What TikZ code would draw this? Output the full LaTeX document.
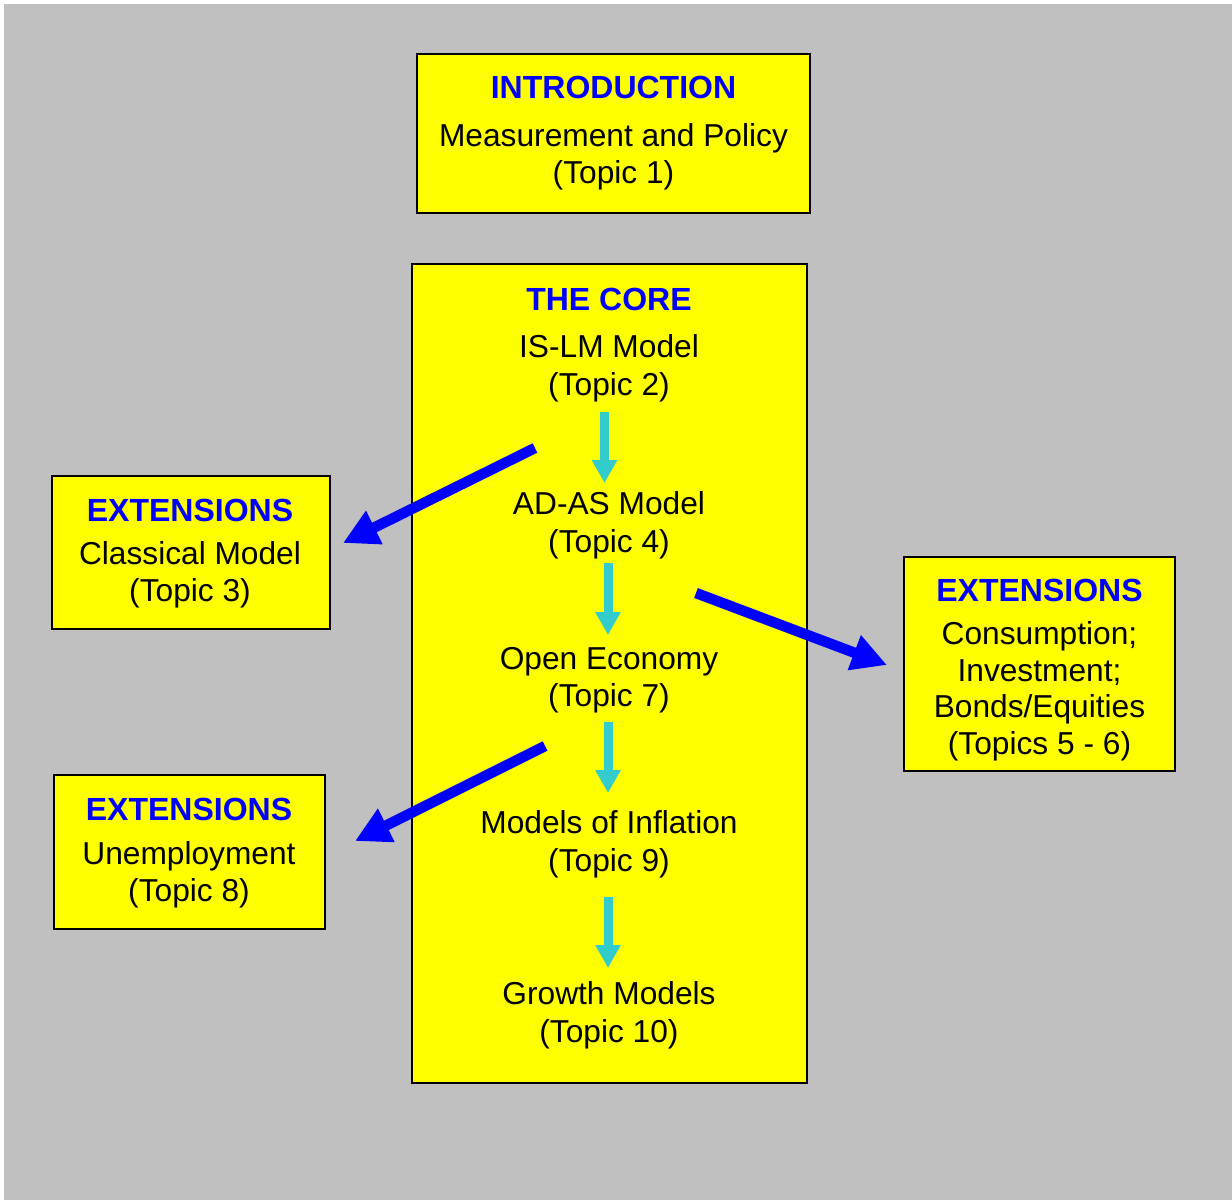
\documentclass[tikz,border=0pt]{standalone}
\usepackage{fontspec}
\setmainfont{Liberation Sans}
\usetikzlibrary{arrows.meta}
\definecolor{bggray}{HTML}{C0C0C0}
\definecolor{boxyellow}{HTML}{FFFF00}
\definecolor{titleblue}{HTML}{0000FF}
\definecolor{arrcyan}{HTML}{33CCCC}
\tikzset{
  box/.style={draw=black, line width=2pt, fill=boxyellow},
  txt/.style={inner sep=0pt, anchor=base, font=\fontsize{31.7}{37}\selectfont},
  ttl/.style={txt, text=titleblue, font=\fontsize{32}{37}\selectfont\bfseries},
  cyanarr/.style={draw=arrcyan, line width=9pt, -{Triangle[length=23pt,width=24pt]}},
  bluearr/.style={draw=titleblue, line width=10.5pt, -{Triangle[length=35pt,width=35pt]}},
}
\begin{document}
\begin{tikzpicture}[x=1pt,y=-1pt]
\useasboundingbox (0,0) rectangle (1232,1200);
\fill[white] (0,0) rectangle (1232,1200);
\fill[bggray] (4,4) rectangle (1232,1200);

% boxes
\draw[box] (417,54) rectangle (810,213);
\draw[box] (412,264) rectangle (807,1083);
\draw[box] (52,476) rectangle (330,629);
\draw[box] (54,775) rectangle (325,929);
\draw[box] (904,557) rectangle (1175,771);

% introduction
\node[ttl] (introT) at (613.5,98) {INTRODUCTION};
\node[txt] (intro1) at (613.5,146) {Measurement and Policy};
\node[txt] (intro2) at (613.5,183) {(Topic 1)};

% core
\node[ttl] (coreT) at (609,310) {THE CORE};
\node[txt] (islm) at (609,357) {IS-LM Model};
\node[txt] (islmT) at (609,395) {(Topic 2)};
\node[txt] (adas) at (609,514) {AD-AS Model};
\node[txt] (adasT) at (609,552) {(Topic 4)};
\node[txt] (open) at (609,669) {Open Economy};
\node[txt] (openT) at (609,706) {(Topic 7)};
\node[txt] (infl) at (609,833) {Models of Inflation};
\node[txt] (inflT) at (609,871) {(Topic 9)};
\node[txt] (grow) at (609,1004) {Growth Models};
\node[txt] (growT) at (609,1042) {(Topic 10)};

% extensions left top
\node[ttl] (e1T) at (190,521) {EXTENSIONS};
\node[txt] (e1a) at (190,564) {Classical Model};
\node[txt] (e1b) at (190,601) {(Topic 3)};

% extensions left bottom
\node[ttl] (e2T) at (189,820) {EXTENSIONS};
\node[txt] (e2a) at (189,864) {Unemployment};
\node[txt] (e2b) at (189,901) {(Topic 8)};

% extensions right
\node[ttl] (e3T) at (1039.5,601) {EXTENSIONS};
\node[txt] (e3a) at (1039.5,644) {Consumption;};
\node[txt] (e3b) at (1039.5,681) {Investment;};
\node[txt] (e3c) at (1039.5,717) {Bonds/Equities};
\node[txt] (e3d) at (1039.5,754) {(Topics 5 - 6)};

% arrow end coordinates
\coordinate (c1s) at (604.5,412);
\coordinate (c1e) at (604.5,483);
\coordinate (c2s) at (608,563);
\coordinate (c2e) at (608,635);
\coordinate (c3s) at (608,722);
\coordinate (c3e) at (608,793);
\coordinate (c4s) at (608,897);
\coordinate (c4e) at (608,968);

\coordinate (b1s) at (535,448);
\coordinate (b1e) at (343,543);
\coordinate (b2s) at (696,593);
\coordinate (b2e) at (887,665);
\coordinate (b3s) at (545,746);
\coordinate (b3e) at (355,841);

\draw[cyanarr] (c1s) -- (c1e);
\draw[cyanarr] (c2s) -- (c2e);
\draw[cyanarr] (c3s) -- (c3e);
\draw[cyanarr] (c4s) -- (c4e);

\draw[bluearr] (b1s) -- (b1e);
\draw[bluearr] (b2s) -- (b2e);
\draw[bluearr] (b3s) -- (b3e);
\end{tikzpicture}
\end{document}
